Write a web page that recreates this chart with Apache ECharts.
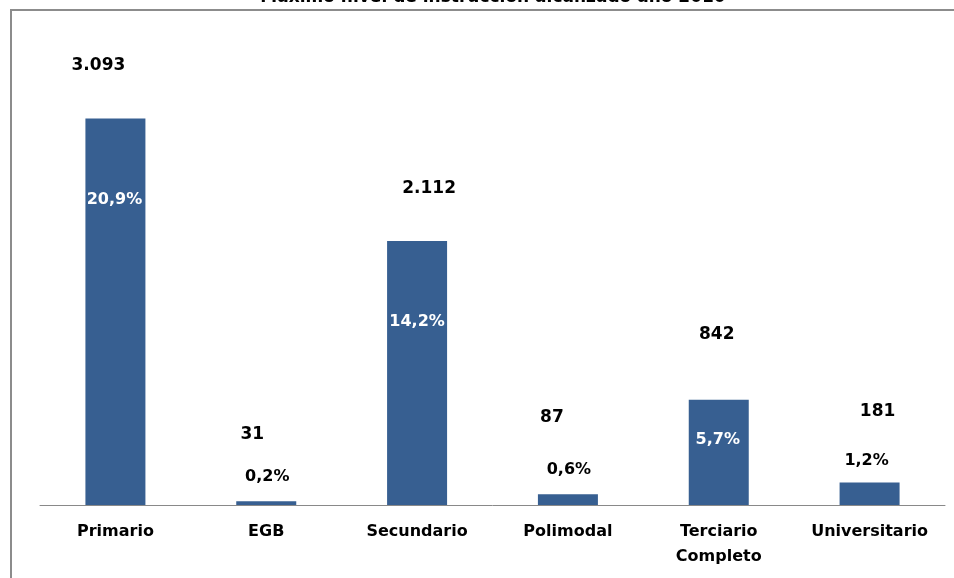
<!DOCTYPE html>
<html>
<head>
<meta charset="utf-8">
<script src="https://cdn.jsdelivr.net/npm/echarts@6/dist/echarts.min.js"></script>
<style>
  html, body { margin:0; padding:0; background:#ffffff; }
  #plot { width:954px; height:578px; }
</style>
</head>
<body>
<div id="plot"></div>
<script>
const titleText = 'Máximo nivel de instrucción alcanzado año 2010';
const categories = ['Primario', 'EGB', 'Secundario', 'Polimodal', 'Terciario\nCompleto', 'Universitario'];
const counts = [3093, 31, 2112, 87, 842, 181];
const shares = [20.9, 0.2, 14.2, 0.6, 5.7, 1.2];

// hand placed labels, like the original sheet (offset from bar top)
const countShift = [[-17, -44], [-14, -58], [12, -44], [-16, -68], [-2, -57], [8, -62]];
const shareShift = [[-1, 89], [1, -16], [0, 89], [1, -16], [-1, 48], [-3, -14]];

const fontFam = '"DejaVu Sans", Verdana, sans-serif';
const barCol = '#375f91';

function fmtCount(v) {
  return String(v).replace(/\B(?=(\d{3})+(?!\d))/g, '.');
}
function fmtShare(v) {
  return v.toFixed(1).replace('.', ',') + '%';
}

const el = document.getElementById('plot');
const chart = echarts.init(el, null, { renderer:'canvas' });

const countData = counts.map((v, i) => ({
  value: v,
  label: { offset: countShift[i] }
}));
const shareData = counts.map((v, i) => ({
  value: v,
  label: {
    offset: shareShift[i],
    color: shareShift[i][1] > 0 ? '#ffffff' : '#000000',
    formatter: fmtShare(shares[i])
  }
}));

chart.setOption({
  backgroundColor: '#ffffff',
  animation: false,
  title: {
    text: titleText, left: 488, top: -16, textAlign: 'center',
    textStyle: { fontFamily: fontFam, fontSize: 17, fontWeight: 'bold', color: '#000000' }
  },
  graphic: [{
    type: 'rect', silent: true, z: -1,
    shape: { x: 11, y: 10, width: 1000, height: 1000 },
    style: { fill: 'none', stroke: '#8c8c8c', lineWidth: 2 }
  }],
  grid: { top: 55, bottom: 73, left: 40, right: 9 },
  xAxis: {
    type: 'category', data: categories,
    axisTick: { show:false },
    axisLine: { lineStyle: { color:'#898989', width:1 } },
    axisLabel: {
      color:'#000000', fontFamily: fontFam, fontSize: 16, fontWeight: 'bold',
      margin: 14, lineHeight: 25, interval: 0
    }
  },
  yAxis: { type: 'value', min: 0, max: 3600, show: false },
  series: [
    { type: 'bar', name: 'Cantidad', data: countData, barWidth: 60,
      itemStyle: { color: barCol },
      label: {
        show: true, position: 'top', distance: 0,
        fontFamily: fontFam, fontSize: 17, fontWeight: 'bold', color: '#000000',
        formatter: p => fmtCount(p.value)
      }
    },
    { type: 'bar', name: 'Porcentaje', data: shareData, barWidth: 60, barGap: '-100%',
      silent: true, itemStyle: { color: 'rgba(0,0,0,0)' },
      label: {
        show: true, position: 'top', distance: 0,
        fontFamily: fontFam, fontSize: 16, fontWeight: 'bold'
      }
    }
  ]
});

window.addEventListener('resize', () => chart.resize(), { passive:true });
</script>
</body>
</html>
